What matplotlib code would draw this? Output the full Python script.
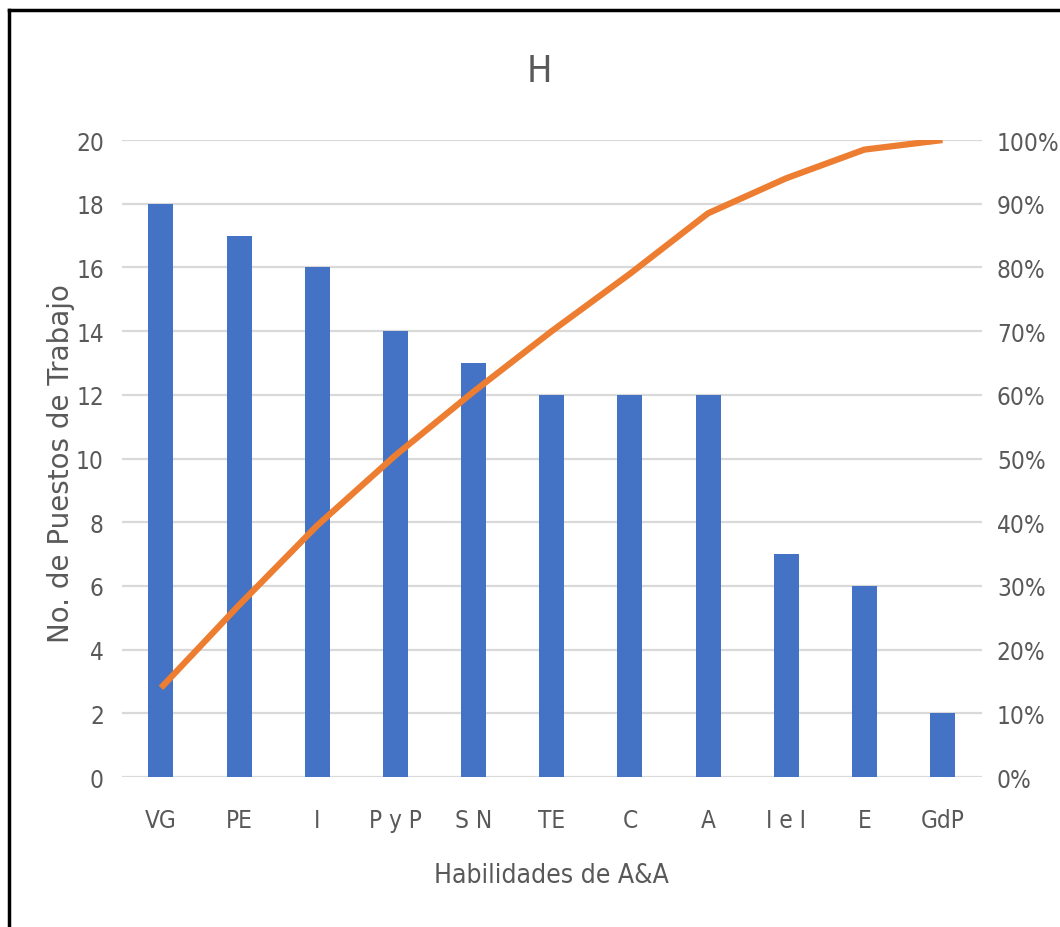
import matplotlib.pyplot as plt
import numpy as np
from matplotlib.lines import Line2D

categorias = ['VG', 'PE', 'I', 'P y P', 'S N', 'TE', 'C', 'A', 'I e I', 'E', 'GdP']
puestos = [18, 17, 16, 14, 13, 12, 12, 12, 7, 6, 2]
acumulado = [14, 27, 39.5, 50.5, 60.5, 70, 79, 88.5, 94, 98.5, 100]  # % acumulado

gris = '#595959'
fuente = dict(family='DejaVu Sans', stretch='condensed')

fig = plt.figure(figsize=(10.6, 9.28), dpi=100)
ax = fig.add_axes([0.115, 0.1616, 0.811, 0.6864])
ax2 = ax.twinx()

x = np.arange(len(categorias))
ax.bar(x, puestos, width=0.32, color='#4472C4', zorder=3)
ax2.plot(x, np.array(acumulado) / 100, color='#ED7D31', linewidth=4.5,
         solid_capstyle='butt', zorder=4)

ax.set_xlim(-0.5, len(categorias) - 0.5)
ax.set_ylim(0, 20)
ax2.set_ylim(0, 1)
ax.set_yticks(np.arange(0, 21, 2))
ax2.set_yticks(np.arange(0, 1.01, 0.1))
ax2.set_yticklabels([f'{int(round(v * 100))}%' for v in np.arange(0, 1.01, 0.1)])

ax.set_xticks(x)
ax.set_xticklabels(categorias)

ax.grid(axis='y', color='#D9D9D9', linewidth=1.6, zorder=0)
ax.set_axisbelow(True)
for a in (ax, ax2):
    for s in a.spines.values():
        s.set_visible(False)
    a.tick_params(length=0, labelcolor=gris, labelsize=17.5)
    for lbl in a.get_xticklabels() + a.get_yticklabels():
        lbl.set_family(fuente['family'])
        lbl.set_stretch(fuente['stretch'])
ax.tick_params(axis='y', pad=13)
ax2.tick_params(axis='y', pad=11)
ax.tick_params(axis='x', pad=22)

ax.set_xlabel('Habilidades de A&A', fontsize=19, color=gris, labelpad=22, **fuente)
fig.text(0.058, 0.5, 'No. de Puestos de Trabajo', rotation=90, ha='center', va='center',
         fontsize=20, color=gris, family='DejaVu Sans', fontweight='medium')
fig.text(0.509, 0.922, 'H', ha='center', va='center', fontsize=27, color=gris, **fuente)

# marco negro (arriba e izquierda)
fig.add_artist(Line2D([0.0085, 0.0085], [0, 0.988], transform=fig.transFigure, color='black', linewidth=2.5))
fig.add_artist(Line2D([0.0085, 1], [0.988, 0.988], transform=fig.transFigure, color='black', linewidth=2.5))

plt.savefig('out.png', dpi=100)
plt.close()
